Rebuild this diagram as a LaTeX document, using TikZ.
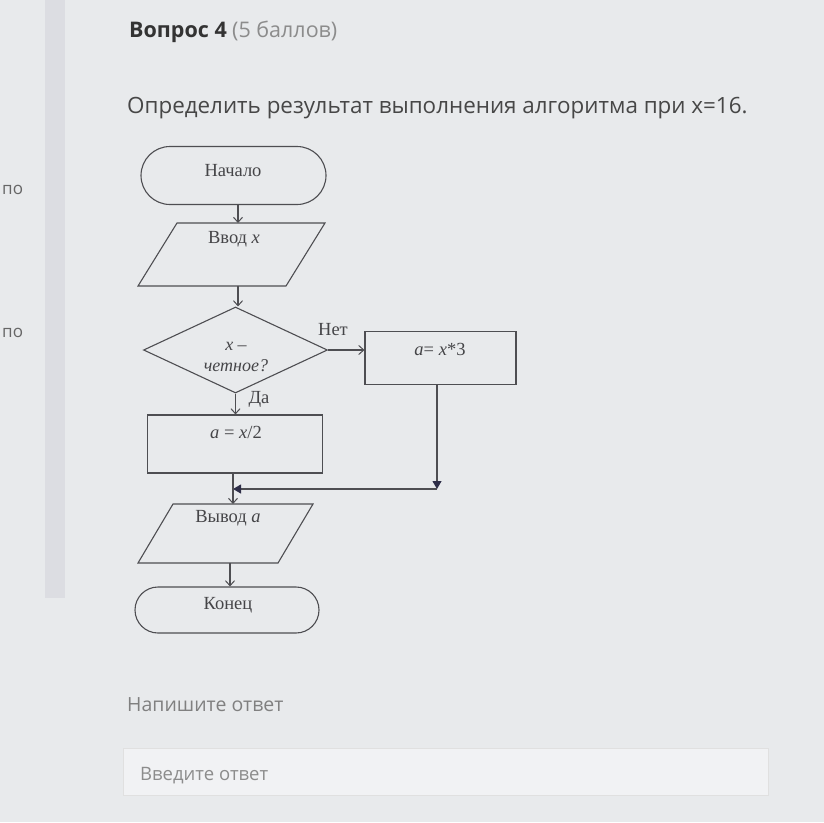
\documentclass[tikz,border=0pt]{standalone}
\usepackage{fontspec}
\setmainfont{Liberation Serif}
\newfontfamily\uifont{Open Sans}
\usetikzlibrary{shapes.geometric,arrows.meta}
\definecolor{bgc}{HTML}{E8EAEC}
\definecolor{bandc}{HTML}{DCDDE2}
\definecolor{linec}{HTML}{4E4E52}
\definecolor{tipc}{HTML}{2E2E48}
\definecolor{fctext}{HTML}{454548}
\tikzset{
  fcline/.style={draw=linec,line width=1.1pt},
  vtip/.style={-{Straight Barb[length=5pt,width=9pt,line width=1pt]},fcline},
  ftip/.style={-{Triangle[length=8pt,width=9pt,color=tipc]},fcline},
  term/.style={fcline,rounded corners=29pt,minimum width=185pt,minimum height=58pt,inner sep=0pt},
  iobox/.style={fcline,line join=miter},
  proc/.style={fcline,rectangle,inner sep=0pt},
  dec/.style={fcline,diamond,minimum width=184pt,minimum height=86pt,inner sep=0pt,aspect=2.1},
  fctxt/.style={font=\fontsize{18.5}{20}\selectfont,text=fctext,inner sep=0pt},
  uitxt/.style={font=\uifont,inner sep=0pt,anchor=base west},
}
\begin{document}
\begin{tikzpicture}[x=1pt,y=-1pt]
\fill[bgc] (0,0) rectangle (824,822);
\useasboundingbox (0,0) rectangle (824,822);
\fill[bandc] (45,0) rectangle (65,598);

% UI text
\node[uitxt,font=\uifont\bfseries\fontsize{21.5}{24}\selectfont,text=black!80] (q) at (129,37) {Вопрос 4};
\node[uitxt,font=\uifont\fontsize{21.5}{24}\selectfont,text=black!45,anchor=base west] (pts) at ([xshift=5pt]q.base east) {(5 баллов)};
\node[uitxt,font=\uifont\fontsize{22.4}{26}\selectfont,text=black!72] (task) at (127,113) {Определить результат выполнения алгоритма при x=16.};
\node[uitxt,font=\uifont\fontsize{17}{19}\selectfont,text=black!60] (po1) at (2,194) {по};
\node[uitxt,font=\uifont\fontsize{17}{19}\selectfont,text=black!60] (po2) at (2,337) {по};
\node[uitxt,font=\uifont\fontsize{19.5}{22}\selectfont,text=black!50] (ans) at (127,711) {Напишите ответ};
\node[draw=black!12,fill=bgc!60!white,line width=0.8pt,minimum width=645pt,minimum height=47pt,inner sep=0pt] (inp) at (445.5,772) {};
\node[uitxt,font=\uifont\fontsize{18.5}{21}\selectfont,text=black!45] (ph) at (140,780) {Введите ответ};

% flowchart shapes
\node[term] (start) at (233.5,175.5) {};
\node[fctxt] (tstart) at (233,171) {Начало};

\coordinate (inTL) at (177,223);
\coordinate (inTR) at (325,223);
\coordinate (inBR) at (286,286);
\coordinate (inBL) at (138,286);
\draw[iobox] (inTL) -- (inTR) -- (inBR) -- (inBL) -- cycle;
\node[fctxt] (tin) at (234,239) {Ввод \textit{x}};

\node[dec] (cond) at (235.5,350) {};
\node[fctxt,align=center,font=\itshape\fontsize{18}{21}\selectfont] (tcond) at (236,357) {x –\\четное?};
\node[proc,minimum width=151pt,minimum height=53pt] (p3) at (440.5,358) {};
\node[fctxt] (tp3) at (440,349) {\textit{a}= \textit{x}*3};
\node[proc,minimum width=175pt,minimum height=58pt] (p2) at (235,444) {};
\node[fctxt] (tp2) at (236,432) {\textit{a} = \textit{x}/2};

\coordinate (outTL) at (173,504);
\coordinate (outTR) at (313,504);
\coordinate (outBR) at (278,563);
\coordinate (outBL) at (138,563);
\draw[iobox] (outTL) -- (outTR) -- (outBR) -- (outBL) -- cycle;
\node[fctxt] (tout) at (228,518) {Вывод \textit{a}};

\node[term,minimum width=184pt,minimum height=46pt,rounded corners=23pt] (end) at (227,610) {};
\node[fctxt] (tend) at (228,605) {Конец};

\node[fctxt] (no) at (333,330) {Нет};
\node[fctxt] (yes) at (259,399) {Да};

\coordinate (inTop) at (238,223);
\coordinate (inBot) at (238,286);
\coordinate (outTop) at (233,504);
\coordinate (outBot) at (230,563);
\coordinate (j1) at (437,489);
\coordinate (j2) at (233,489);

% connectors
\draw[vtip] (start.south -| inTop) -- (inTop);
\draw[vtip] (inBot) -- (cond.north -| inBot);
\draw[vtip] (cond.east) -- (p3.west |- cond.east);
\draw[vtip] (cond.south) -- (p2.north -| cond.south);
\draw[ftip] (p3.south -| j1) -- (j1);
\draw[ftip] (j1) -- (j2);
\draw[vtip] (p2.south -| j2) -- (outTop);
\draw[vtip] (outBot) -- (end.north -| outBot);
\end{tikzpicture}
\end{document}
